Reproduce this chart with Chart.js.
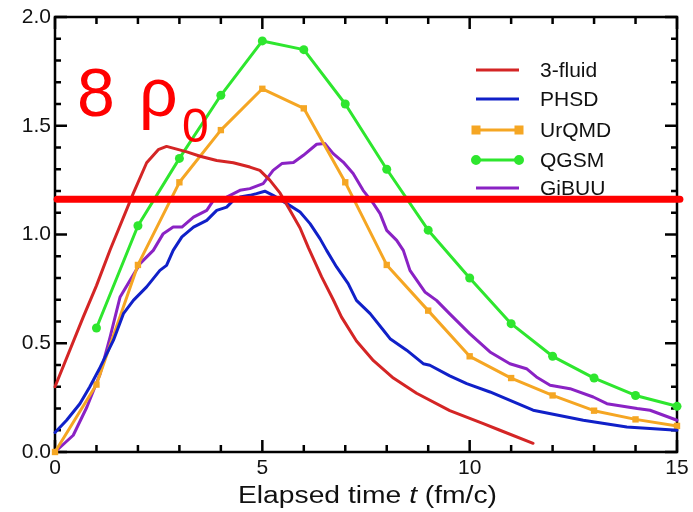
<!DOCTYPE html>
<html><head><meta charset="utf-8">
<script src="https://cdn.jsdelivr.net/npm/chart.js@4"></script>
<style>html,body{margin:0;padding:0;background:#fff;}canvas{display:block;}</style>
</head><body>
<canvas id="c" width="693" height="512"></canvas>
<script>
// ---- data ----
const xTickLabels = [0, 5, 10, 15];
const yTickLabels = [0.0, 0.5, 1.0, 1.5, 2.0];
const seriesNames = ['3-fluid', 'PHSD', 'UrQMD', 'QGSM', 'GiBUU'];

const fluidT = [0, 0.68, 1.0, 1.33, 1.89, 2.21, 2.49, 2.69, 3.18, 3.5, 3.9, 4.3, 4.7, 4.94, 5.18, 5.43, 5.67, 5.91, 6.11, 6.43, 6.71, 6.91, 7.27, 7.68, 8.16, 8.72, 9.52, 10.33, 10.73, 11.53];
const fluidY = [0.30, 0.62, 0.765, 0.93, 1.19, 1.33, 1.39, 1.405, 1.38, 1.36, 1.34, 1.33, 1.31, 1.295, 1.25, 1.19, 1.11, 1.03, 0.94, 0.805, 0.70, 0.62, 0.51, 0.42, 0.34, 0.27, 0.19, 0.13, 0.10, 0.04];

const phsdT = [0, 0.28, 0.6, 0.84, 1.09, 1.41, 1.65, 1.89, 2.21, 2.53, 2.69, 2.85, 3.06, 3.34, 3.66, 3.9, 4.14, 4.3, 4.46, 4.7, 4.86, 5.06, 5.26, 5.59, 5.91, 6.15, 6.39, 6.55, 6.79, 7.07, 7.27, 7.6, 7.92, 8.08, 8.48, 8.88, 9.04, 9.52, 9.93, 10.49, 11.53, 12.74, 13.79, 15];
const phsdY = [0.09, 0.146, 0.222, 0.30, 0.39, 0.514, 0.636, 0.697, 0.759, 0.835, 0.858, 0.927, 0.989, 1.034, 1.065, 1.111, 1.126, 1.157, 1.172, 1.18, 1.188, 1.199, 1.18, 1.142, 1.103, 1.05, 0.981, 0.927, 0.851, 0.774, 0.697, 0.636, 0.56, 0.521, 0.468, 0.406, 0.399, 0.35, 0.314, 0.276, 0.192, 0.146, 0.115, 0.10];

const urqmdT = [0, 1, 2, 3, 4, 5, 6, 7, 8, 9, 10, 11, 12, 13, 14, 15];
const urqmdY = [0.0, 0.31, 0.86, 1.24, 1.48, 1.67, 1.58, 1.24, 0.86, 0.65, 0.44, 0.34, 0.26, 0.19, 0.15, 0.12];

const qgsmT = [1, 2, 3, 4, 5, 6, 7, 8, 9, 10, 11, 12, 13, 14, 15];
const qgsmY = [0.57, 1.04, 1.35, 1.64, 1.89, 1.85, 1.60, 1.30, 1.02, 0.80, 0.59, 0.44, 0.34, 0.26, 0.21];

const gibuuT = [0, 0.44, 0.77, 1.09, 1.33, 1.57, 1.81, 2.05, 2.37, 2.61, 2.85, 3.06, 3.34, 3.66, 3.82, 4.14, 4.46, 4.7, 5.02, 5.26, 5.47, 5.75, 5.99, 6.31, 6.51, 6.71, 6.95, 7.19, 7.43, 7.68, 7.84, 8.0, 8.24, 8.4, 8.56, 8.92, 9.2, 9.52, 10.0, 10.49, 10.97, 11.37, 11.61, 11.94, 12.42, 12.98, 13.31, 14.04, 14.35, 15];
const gibuuY = [0.0, 0.077, 0.207, 0.36, 0.529, 0.713, 0.789, 0.866, 0.927, 1.004, 1.034, 1.034, 1.08, 1.111, 1.157, 1.172, 1.203, 1.211, 1.234, 1.295, 1.326, 1.331, 1.364, 1.415, 1.418, 1.372, 1.333, 1.28, 1.203, 1.142, 1.096, 1.019, 0.973, 0.927, 0.835, 0.736, 0.697, 0.635, 0.544, 0.46, 0.406, 0.383, 0.345, 0.307, 0.291, 0.253, 0.222, 0.2, 0.192, 0.146];

const refT = [0.05, 15.07];
const refY = [1.162, 1.162];
const noteParts = ['8', 'ρ', '0'];
const xTitleParts = ['Elapsed time ', 't', ' (fm/c)'];

// ---- styles ----
const colors = ['#d42525', '#1020c8', '#f5a623', '#2ee62e', '#8a22c4'];
const FONT = 'Liberation Sans, Arial, sans-serif';
const pts = (xs, ys) => xs.map((x, i) => ({x: x, y: ys[i]}));

const framePlugin = {
  id: 'frame',
  beforeDatasetsDraw(chart) {
    const c = chart.ctx, a = chart.chartArea, xs = chart.scales.x, ys = chart.scales.y;
    c.save();
    c.strokeStyle = '#000';
    c.lineWidth = 2.5;
    c.strokeRect(a.left, a.top, a.right - a.left, a.bottom - a.top);
    c.beginPath();
    for (let v = 0; v <= 15; v++) {
      const p = xs.getPixelForValue(v);
      const len = v % 5 === 0 ? 12 : 7;
      c.moveTo(p, a.bottom); c.lineTo(p, a.bottom - len);
      c.moveTo(p, a.top); c.lineTo(p, a.top + len);
    }
    for (let k = 0; k <= 20; k++) {
      const p = ys.getPixelForValue(k / 10);
      const len = k % 5 === 0 ? 12 : 6;
      c.moveTo(a.left, p); c.lineTo(a.left + len, p);
      c.moveTo(a.right, p); c.lineTo(a.right - len, p);
    }
    c.stroke();
    c.restore();
  }
};

const overlayPlugin = {
  id: 'overlay',
  afterDatasetsDraw(chart) {
    const c = chart.ctx;
    c.save();
    const rowY = [70, 99, 130, 160, 188];
    const x0 = 476, x1 = 519;
    seriesNames.forEach((name, i) => {
      const y = rowY[i];
      c.strokeStyle = colors[i];
      c.lineWidth = 3;
      c.beginPath(); c.moveTo(x0, y); c.lineTo(x1, y); c.stroke();
      c.fillStyle = colors[i];
      if (i === 2) { c.fillRect(x0 - 4.5, y - 4.5, 9, 9); c.fillRect(x1 - 4.5, y - 4.5, 9, 9); }
      if (i === 3) { c.beginPath(); c.arc(x0, y, 5, 0, 2 * Math.PI); c.arc(x1, y, 5, 0, 2 * Math.PI); c.fill(); }
      c.fillStyle = '#111';
      c.font = '21px ' + FONT;
      c.textBaseline = 'middle';
      c.textAlign = 'left';
      c.fillText(name, 540, y + 1);
    });
    c.restore();
  },
  afterDraw(chart) {
    const c = chart.ctx;
    c.save();
    const fN = '23px ' + FONT, fI = 'italic 23px ' + FONT;
    c.font = fN; const w0 = c.measureText(xTitleParts[0]).width, w2 = c.measureText(xTitleParts[2]).width;
    c.font = fI; const w1 = c.measureText(xTitleParts[1]).width;
    const sx = 259 / (w0 + w1 + w2);
    c.translate(238, 503);
    c.scale(sx, 1);
    c.fillStyle = '#111';
    c.textBaseline = 'alphabetic';
    c.textAlign = 'left';
    c.font = fN; c.fillText(xTitleParts[0], 0, 0);
    c.font = fI; c.fillText(xTitleParts[1], w0, 0);
    c.font = fN; c.fillText(xTitleParts[2], w0 + w1, 0);
    c.restore();
    c.save();
    c.fillStyle = '#ff0000';
    c.textBaseline = 'alphabetic';
    c.textAlign = 'left';
    c.font = '68px ' + FONT;
    c.fillText(noteParts[0], 77, 116);
    c.fillText(noteParts[1], 139, 116);
    c.font = '48px ' + FONT;
    c.fillText(noteParts[2], 182, 142);
    c.restore();
  }
};

new Chart(document.getElementById('c'), {
  type: 'line',
  data: {
    datasets: [
      {label: 'ref', data: pts(refT, refY), borderColor: '#ff0000', borderWidth: 7, pointRadius: 0, order: 0, clip: false},
      {label: seriesNames[0], data: pts(fluidT, fluidY), borderColor: colors[0], borderWidth: 3, pointRadius: 0, order: 1, clip: 8},
      {label: seriesNames[1], data: pts(phsdT, phsdY), borderColor: colors[1], borderWidth: 3, pointRadius: 0, order: 2, clip: 8},
      {label: seriesNames[2], data: pts(urqmdT, urqmdY), borderColor: colors[2], backgroundColor: colors[2], borderWidth: 3, pointStyle: 'rect', pointRadius: 4.5, pointBorderWidth: 0, order: 3, clip: 8},
      {label: seriesNames[3], data: pts(qgsmT, qgsmY), borderColor: colors[3], backgroundColor: colors[3], borderWidth: 3, pointStyle: 'circle', pointRadius: 4.5, pointBorderWidth: 0, order: 4, clip: 8},
      {label: seriesNames[4], data: pts(gibuuT, gibuuY), borderColor: colors[4], borderWidth: 3, pointRadius: 0, order: 5, clip: 8}
    ]
  },
  options: {
    responsive: false,
    animation: false,
    devicePixelRatio: 1,
    elements: {line: {tension: 0, borderJoinStyle: 'round', borderCapStyle: 'round'}},
    layout: {padding: {top: 17, right: 16, left: 0, bottom: 0}},
    plugins: {legend: {display: false}, tooltip: {enabled: false}},
    scales: {
      x: {
        type: 'linear', min: 0, max: 15,
        afterBuildTicks: s => { s.ticks = xTickLabels.map(v => ({value: v})); },
        afterFit: s => { s.height = 60; },
        ticks: {font: {family: FONT, size: 21}, color: '#111', maxRotation: 0, autoSkip: false, padding: 4},
        grid: {display: false, drawTicks: false},
        border: {display: false}
      },
      y: {
        type: 'linear', min: 0, max: 2,
        afterBuildTicks: s => { s.ticks = yTickLabels.map(v => ({value: v})); },
        afterFit: s => { s.width = 55; },
        ticks: {font: {family: FONT, size: 21}, color: '#111', padding: 4, callback: v => Number(v).toFixed(1)},
        grid: {display: false, drawTicks: false},
        border: {display: false}
      }
    }
  },
  plugins: [framePlugin, overlayPlugin]
});
</script>
</body></html>
